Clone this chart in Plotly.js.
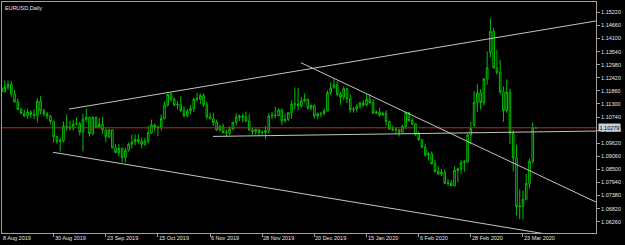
<!DOCTYPE html>
<html>
<head>
<meta charset="utf-8">
<script src="https://cdn.plot.ly/plotly-3.0.1.min.js"></script>
<style>
html,body{margin:0;padding:0;background:#000;}
#chart{width:625px;height:245px;}
</style>
</head>
<body>
<div id="chart"></div>
<script>
// EURUSD daily bars, 8 Aug 2019 .. 27 Mar 2020 (bar index 0..164)
const openP = [
1.1199,1.1182,1.1201,1.1214,1.1172,1.1139,1.1107,1.1090,1.1079,1.1096,1.1085,1.1081,1.1142,1.1100,1.1088,1.1078,
1.1055,1.0990,1.0970,1.0973,1.1034,1.1031,1.1027,1.1044,1.1045,1.1010,1.1064,1.1073,1.1003,1.1073,1.1030,1.1042,
1.1018,1.0990,1.1019,1.0942,1.0922,1.0940,1.0900,1.0932,1.0958,1.0967,1.0978,1.0970,1.0957,1.0971,1.1006,1.1040,
1.1029,1.1031,1.1068,1.1125,1.1171,1.1150,1.1125,1.1128,1.1102,1.1080,1.1099,1.1110,1.1151,1.1151,1.1166,1.1126,
1.1075,1.1066,1.1051,1.1018,1.1032,1.1008,1.1006,1.1023,1.1052,1.1073,1.1078,1.1074,1.1057,1.1019,1.1012,1.1021,
1.1008,1.1008,1.1017,1.1079,1.1082,1.1080,1.1104,1.1058,1.1063,1.1092,1.1129,1.1130,1.1122,1.1143,1.1150,1.1112,
1.1123,1.1078,1.1088,1.1090,1.1100,1.1178,1.1198,1.1212,1.1171,1.1159,1.1195,1.1152,1.1106,1.1108,1.1120,1.1134,
1.1126,1.1150,1.1135,1.1091,1.1095,1.1082,1.1089,1.1054,1.1022,1.1019,1.1020,1.1009,1.1033,1.1093,1.1059,1.1045,
1.0999,1.0977,1.0945,1.0912,1.0916,1.0875,1.0841,1.0830,1.0838,1.0790,1.0792,1.0780,1.0846,1.0852,1.0880,1.0882,
1.0997,1.1040,1.1137,1.1177,1.1136,1.1237,1.1350,1.1440,1.1284,1.1265,1.1182,1.1102,1.1180,1.1004,1.0900,1.0690,
1.0693,1.0722,1.0790,1.0885,1.1028];
const highP = [
1.1226,1.1230,1.1230,1.1229,1.1190,1.1153,1.1114,1.1106,1.1110,1.1102,1.1107,1.1154,1.1164,1.1110,1.1095,1.1083,
1.1058,1.0992,1.0985,1.1055,1.1085,1.1058,1.1063,1.1072,1.1054,1.1087,1.1110,1.1074,1.1075,1.1075,1.1069,1.1076,
1.1025,1.1024,1.1022,1.0959,1.0959,1.0944,1.0943,1.0965,1.0999,1.0999,1.1000,1.0986,1.0985,1.1034,1.1063,1.1046,
1.1036,1.1085,1.1140,1.1172,1.1179,1.1158,1.1142,1.1163,1.1119,1.1108,1.1125,1.1154,1.1176,1.1175,1.1177,1.1139,
1.1093,1.1092,1.1063,1.1040,1.1046,1.1020,1.1034,1.1052,1.1090,1.1085,1.1089,1.1097,1.1087,1.1027,1.1024,1.1023,
1.1018,1.1035,1.1090,1.1095,1.1117,1.1111,1.1110,1.1088,1.1095,1.1145,1.1200,1.1199,1.1160,1.1175,1.1153,1.1128,
1.1128,1.1093,1.1094,1.1111,1.1188,1.1221,1.1239,1.1229,1.1181,1.1205,1.1197,1.1172,1.1117,1.1129,1.1141,1.1146,
1.1172,1.1174,1.1150,1.1103,1.1113,1.1097,1.1103,1.1058,1.1036,1.1030,1.1023,1.1040,1.1097,1.1095,1.1069,1.1046,
1.1012,1.0980,1.0960,1.0924,1.0927,1.0890,1.0863,1.0852,1.0851,1.0808,1.0804,1.0863,1.0858,1.0890,1.0891,1.1004,
1.1053,1.1185,1.1214,1.1193,1.1240,1.1355,1.1496,1.1456,1.1360,1.1318,1.1205,1.1235,1.1195,1.1020,1.0955,1.0765,
1.0760,1.0830,1.0895,1.1050,1.1032];
const lowP = [
1.1176,1.1180,1.1190,1.1160,1.1135,1.1105,1.1087,1.1075,1.1067,1.1069,1.1065,1.1051,1.1085,1.1077,1.1066,1.1043,
1.0964,1.0961,1.0926,1.0965,1.1014,1.1015,1.1015,1.1038,1.0995,1.0927,1.1053,1.0990,1.0995,1.1028,1.1025,1.1003,
1.0966,1.0983,1.0941,1.0922,1.0905,1.0880,1.0879,1.0926,1.0940,1.0953,1.0960,1.0940,1.0951,1.0960,1.1001,1.1014,
1.0992,1.1015,1.1063,1.1119,1.1139,1.1122,1.1107,1.1095,1.1072,1.1073,1.1086,1.1095,1.1140,1.1129,1.1120,1.1064,
1.1065,1.1036,1.1016,1.1013,1.1004,1.0989,1.0996,1.1017,1.1040,1.1057,1.1052,1.1055,1.1014,1.0998,1.0998,1.0993,
1.0998,1.0981,1.1003,1.1065,1.1068,1.1076,1.1040,1.1049,1.1056,1.1066,1.1106,1.1103,1.1115,1.1136,1.1106,1.1103,
1.1067,1.1065,1.1074,1.1081,1.1100,1.1170,1.1198,1.1163,1.1126,1.1147,1.1134,1.1092,1.1093,1.1093,1.1109,1.1117,
1.1119,1.1128,1.1086,1.1087,1.1075,1.1079,1.1036,1.1019,1.1013,1.1006,1.0991,1.1007,1.1022,1.1054,1.1039,1.0994,
1.0972,1.0940,1.0904,1.0888,1.0871,1.0836,1.0827,1.0822,1.0786,1.0779,1.0778,1.0776,1.0795,1.0830,1.0840,1.0878,
1.0956,1.1030,1.1095,1.1106,1.1124,1.1212,1.1330,1.1282,1.1255,1.1171,1.1053,1.1092,1.0959,1.0841,1.0653,1.0637,
1.0636,1.0720,1.0768,1.0874,1.1024];
const closeP = [
1.1182,1.1201,1.1214,1.1172,1.1139,1.1107,1.1090,1.1079,1.1096,1.1085,1.1081,1.1142,1.1100,1.1088,1.1078,1.1055,
1.0990,1.0970,1.0973,1.1034,1.1031,1.1027,1.1044,1.1045,1.1010,1.1064,1.1073,1.1003,1.1073,1.1030,1.1042,1.1018,
1.0990,1.1019,1.0942,1.0922,1.0940,1.0900,1.0932,1.0958,1.0967,1.0978,1.0970,1.0957,1.0971,1.1006,1.1040,1.1029,
1.1031,1.1068,1.1125,1.1171,1.1150,1.1125,1.1128,1.1102,1.1080,1.1099,1.1110,1.1151,1.1151,1.1166,1.1126,1.1075,
1.1066,1.1051,1.1018,1.1032,1.1008,1.1006,1.1023,1.1052,1.1073,1.1078,1.1074,1.1057,1.1019,1.1012,1.1021,1.1008,
1.1008,1.1017,1.1079,1.1082,1.1080,1.1104,1.1058,1.1063,1.1092,1.1129,1.1130,1.1122,1.1143,1.1150,1.1112,1.1123,
1.1078,1.1088,1.1090,1.1100,1.1178,1.1198,1.1212,1.1171,1.1159,1.1195,1.1152,1.1106,1.1108,1.1120,1.1134,1.1126,
1.1150,1.1135,1.1091,1.1095,1.1082,1.1089,1.1054,1.1022,1.1019,1.1020,1.1009,1.1033,1.1093,1.1059,1.1045,1.0999,
1.0977,1.0945,1.0912,1.0916,1.0875,1.0841,1.0830,1.0838,1.0790,1.0792,1.0780,1.0846,1.0852,1.0880,1.0882,1.0997,
1.1025,1.1137,1.1177,1.1136,1.1237,1.1284,1.1440,1.1284,1.1265,1.1182,1.1102,1.1180,1.1004,1.0900,1.0690,1.0693,
1.0722,1.0790,1.0885,1.1028,1.10279];

// date axis labels (every 16 bars)
const tickIdx  = [0,16,32,48,64,80,96,112,128,144,160];
const tickText = ['8 Aug 2019','30 Aug 2019','23 Sep 2019','15 Oct 2019','6 Nov 2019','28 Nov 2019',
                  '20 Dec 2019','15 Jan 2020','6 Feb 2020','28 Feb 2020','23 Mar 2020'];
// price axis labels
const priceTicks = [1.06260,1.06820,1.07380,1.07940,1.08500,1.09060,1.09620,1.10180,1.10740,
                    1.11300,1.11860,1.12420,1.12980,1.13540,1.14100,1.14660,1.15220];
const bidPrice = 1.10279;

// hand-drawn trend lines (bar index, price)
const upperLineX = [20.7, 182.4],  upperLineY = [1.1108, 1.1485];
const fallLineX  = [91.9, 182.4],  fallLineY  = [1.1306, 1.0710];
const lowerLineX = [15.8, 182.4],  lowerLineY = [1.0923, 1.0538];
const flatLineX  = [64.9, 182.4],  flatLineY  = [1.0991, 1.1014];

const xRange = [0.15, 182.4];
const yRange = [1.05778, 1.15661];

const idx = openP.map((_, i) => i);
const green = '#00c000';
const lineCol = '#c4c4c4';
const txtCol = '#e6e6e6';
const fnt = 'Liberation Sans, Arial, sans-serif';

function lineTrace(x, y, color) {
  return {type:'scatter', mode:'lines', x:x, y:y, line:{color:color, width:1},
          hoverinfo:'skip', showlegend:false};
}

const traces = [
  lineTrace([xRange[0], xRange[1]], [bidPrice, bidPrice], '#c02828'),
  {type:'candlestick', x:idx, open:openP, high:highP, low:lowP, close:closeP,
   increasing:{line:{color:green, width:1}, fillcolor:'#000000'},
   decreasing:{line:{color:green, width:1}, fillcolor:'#000000'},
   whiskerwidth:0, hoverinfo:'skip', showlegend:false},
  lineTrace(upperLineX, upperLineY, lineCol),
  lineTrace(fallLineX, fallLineY, lineCol),
  lineTrace(lowerLineX, lowerLineY, lineCol),
  lineTrace(flatLineX, flatLineY, lineCol)
];

// date labels: left-aligned at their bar, placed in paper units from the x scale
const annotations = tickIdx.map((t, i) => ({
  x: (t - xRange[0]) / (xRange[1] - xRange[0]), xref:'paper', y: 0, yref:'paper',
  xanchor:'left', yanchor:'top',
  text: tickText[i], showarrow:false, font:{family:fnt, size:5.5, color:txtCol},
  xshift: 0, yshift: -1, borderpad:0
}));
annotations.push({
  x:0, xref:'paper', y:1, yref:'paper', xanchor:'left', yanchor:'top',
  text:'EURUSD,Daily', showarrow:false, font:{family:fnt, size:5.5, color:txtCol},
  xshift:2, yshift:-2, borderpad:0
});
annotations.push({
  x:1, xref:'paper', y:bidPrice, yref:'y', xanchor:'left', yanchor:'middle',
  text:bidPrice.toFixed(5), showarrow:false, font:{family:fnt, size:5.5, color:'#000'},
  bgcolor:'#c8d0dc', xshift:2, borderpad:0.5
});

const layout = {
  width:625, height:245,
  paper_bgcolor:'#000', plot_bgcolor:'#000',
  margin:{l:2, r:29, t:2, b:12},
  showlegend:false,
  xaxis:{range:xRange, showgrid:false, zeroline:false, tickvals:tickIdx, ticktext:tickText,
         showticklabels:false, ticks:'outside', ticklen:3, tickcolor:'#a0a0a0',
         showline:true, mirror:true, linecolor:'#a0a0a0', linewidth:1,
         rangeslider:{visible:false}, fixedrange:true},
  yaxis:{range:yRange, side:'right', showgrid:false, zeroline:false,
         tickvals:priceTicks, ticktext:priceTicks.map(v => v.toFixed(5)),
         ticks:'outside', ticklen:3, tickcolor:'#a0a0a0',
         tickfont:{family:fnt, size:5.5, color:txtCol},
         showline:true, mirror:true, linecolor:'#a0a0a0', linewidth:1, fixedrange:true},
  annotations:annotations
};

Plotly.newPlot('chart', traces, layout, {staticPlot:true, displayModeBar:false});
</script>
</body>
</html>
